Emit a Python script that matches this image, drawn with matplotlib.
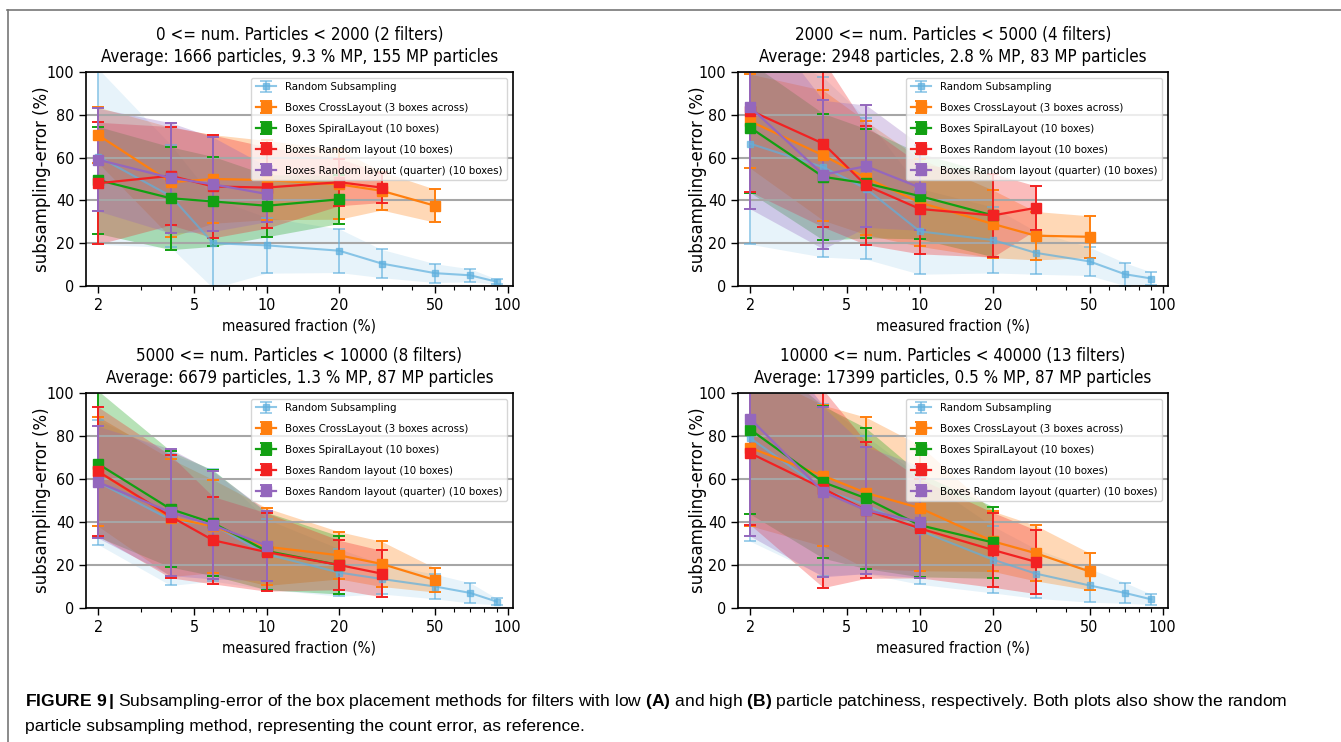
import numpy as np
import matplotlib
matplotlib.use('Agg')
import matplotlib.pyplot as plt
from matplotlib.lines import Line2D
from matplotlib import font_manager

# x positions (measured fraction, %)
x_random = [2, 4, 6, 10, 20, 30, 50, 70, 90]
x_cross = [2, 4, 6, 10, 20, 30, 50]
x_spiral = [2, 4, 6, 10, 20]
x_randlay = [2, 4, 6, 10, 20, 30]
x_quarter = [2, 4, 6, 10]

titles = [
    '0 <= num. Particles < 2000 (2 filters)\nAverage: 1666 particles, 9.3 % MP, 155 MP particles',
    '2000 <= num. Particles < 5000 (4 filters)\nAverage: 2948 particles, 2.8 % MP, 83 MP particles',
    '5000 <= num. Particles < 10000 (8 filters)\nAverage: 6679 particles, 1.3 % MP, 87 MP particles',
    '10000 <= num. Particles < 40000 (13 filters)\nAverage: 17399 particles, 0.5 % MP, 87 MP particles',
]

# one row per panel (TL, TR, BL, BR)
random_mean = [[60.5, 42, 20, 19, 16.5, 10.5, 6, 5, 2],
               [66.5, 55.5, 45.5, 25.5, 21.5, 15.5, 11.5, 5.5, 3.5],
               [58.5, 41, 38.5, 25, 16.5, 13.5, 10, 7, 3],
               [79, 55, 48, 36, 22.5, 16, 10.5, 7, 4]]
random_std = [[41, 24, 21, 13, 10.2, 6.6, 4.4, 3, 1.2],
              [47, 42, 33, 20, 15.4, 10, 6.6, 5.3, 3],
              [29, 30.5, 26, 16.3, 11, 7, 5.7, 4.7, 1.5],
              [48, 40, 32, 25, 15.5, 11.5, 7.8, 4.8, 2.4]]

cross_mean = [[70.5, 48.5, 50, 49.5, 47.5, 44.5, 37.5],
              [77, 61, 50.5, 39, 29, 23.5, 23],
              [63.5, 42, 38, 28.5, 24.5, 20.5, 13],
              [74.5, 61.5, 53.5, 46.5, 31, 25.5, 17]]
cross_std = [[13, 25.7, 20.7, 18.5, 16.3, 9, 7.7],
             [22, 30.4, 26.5, 20.5, 15.8, 11.3, 9.8],
             [25.5, 27.3, 21.7, 18, 11, 10.5, 5.6],
             [36.3, 32.8, 35.2, 29.2, 14, 12.9, 8.6]]

spiral_mean = [[49.5, 41, 39.5, 37.5, 40.5],
               [74, 51, 48, 42, 33],
               [67, 46, 39.5, 26.5, 20],
               [83, 58.5, 51, 38.5, 30.5]]
spiral_std = [[25, 24, 21, 14.5, 11.3],
              [30.4, 29.6, 25.5, 20, 19.3],
              [34, 27, 24.5, 18, 13.5],
              [39.3, 35.4, 32.7, 24, 16.7]]

randlay_mean = [[48, 51.5, 46.5, 46, 48.5, 46],
                [82, 66.5, 47, 36, 33, 36.5],
                [63.5, 42.5, 31.5, 26, 20, 16],
                [72, 55.5, 45.5, 37, 27, 21.5]]
randlay_std = [[28.5, 23, 24, 19, 11, 7],
               [38, 39, 27.7, 21, 19.5, 10.3],
               [30, 28.5, 20.3, 18.2, 11.5, 10.8],
               [33.3, 46, 31.7, 23, 17.4, 14.8]]

quarter_mean = [[59, 50.5, 47.5, 43],
                [83.5, 52, 56, 46],
                [58.5, 44.5, 38.5, 29],
                [88, 54, 45.5, 40]]
quarter_std = [[24, 25.8, 22, 13],
               [47.5, 34.7, 28.6, 20],
               [26, 29.4, 25, 16.3],
               [54.6, 39.5, 29.5, 26]]

series = [
    ('Random Subsampling', x_random, random_mean, random_std, '#5fb0de'),
    ('Boxes CrossLayout (3 boxes across)', x_cross, cross_mean, cross_std, '#ff7f0e'),
    ('Boxes SpiralLayout (10 boxes)', x_spiral, spiral_mean, spiral_std, '#12a012'),
    ('Boxes Random layout (10 boxes)', x_randlay, randlay_mean, randlay_std, '#f22222'),
    ('Boxes Random layout (quarter) (10 boxes)', x_quarter, quarter_mean, quarter_std, '#9467bd'),
]

plt.rcParams['font.family'] = ['DejaVu Sans']
plt.rcParams['font.stretch'] = 'condensed'

W, H = 1341, 742
fig = plt.figure(figsize=(W / 100, H / 100), dpi=100)

# axes boxes in pixels: left, top, right, bottom
boxes = [(86, 72, 513, 286), (738, 72, 1168, 286),
         (86, 393, 513, 608), (738, 393, 1168, 608)]

for i, (l, t, r, b) in enumerate(boxes):
    ax = fig.add_axes([l / W, 1 - b / H, (r - l) / W, (b - t) / H])
    for k, (name, x, mean, std, c) in enumerate(series):
        m = np.array(mean[i])
        s = np.array(std[i])
        if k == 0:
            ax.fill_between(x, m - s, m + s, color=c, alpha=0.15, lw=0)
            ax.errorbar(x, m, yerr=s, marker='s', ms=5, lw=1.5, capsize=4,
                        capthick=1.2, elinewidth=1.2, color=c, alpha=0.7, label=name)
        else:
            ax.fill_between(x, m - s, m + s, color=c, alpha=0.3, lw=0)
            ax.errorbar(x, m, yerr=s, marker='s', ms=6.5, lw=1.6, capsize=4,
                        capthick=1.4, elinewidth=1.4, color=c, label=name)
    ax.set_xscale('log')
    ax.set_xlim(1.78, 105.3)
    ax.set_ylim(0, 100)
    ax.set_xticks([2, 5, 10, 20, 50, 100])
    ax.set_xticklabels(['2', '5', '10', '20', '50', '100'])
    ax.set_xticks([3, 4, 6, 7, 8, 9, 30, 40, 60, 70, 80, 90], minor=True)
    ax.set_xticklabels([], minor=True)
    ax.set_yticks([0, 20, 40, 60, 80, 100])
    ax.yaxis.grid(True, color='#a6a6a6', lw=1.5)
    ax.tick_params(labelsize=11.5, length=5, width=1)
    ax.tick_params(which='minor', length=3, width=0.8)
    for sp in ax.spines.values():
        sp.set_linewidth(1.2)
    ax.set_xlabel('measured fraction (%)', fontsize=11)
    ax.set_ylabel('subsampling-error (%)', fontsize=12, fontstretch='normal')
    ax.yaxis.set_label_coords((51 - l) / (r - l) if i % 2 == 0 else (707 - l) / (r - l), 0.5)
    ax.set_title(titles[i], fontsize=12.2, pad=7, linespacing=1.3)
    ax.legend(loc='upper right', fontsize=8.2, labelspacing=0.95, handlelength=1.8)

# page frame
fig.add_artist(Line2D([7 / W, 1], [1 - 10 / H, 1 - 10 / H], color='#777777', lw=1.2))
fig.add_artist(Line2D([8 / W, 8 / W], [0, 1 - 10 / H], color='#777777', lw=1.2))

# caption
names = {f.name for f in font_manager.fontManager.ttflist}
cap_font = 'Liberation Sans Narrow' if 'Liberation Sans Narrow' in names else 'Liberation Sans'
plt.rcParams['mathtext.fontset'] = 'custom'
plt.rcParams['mathtext.rm'] = cap_font
plt.rcParams['mathtext.bf'] = cap_font + ':bold'

line1 = (r'$\mathbf{FIGURE\ 9\,|}$' + ' Subsampling-error of the box placement methods for filters with low '
         + r'$\mathbf{(A)}$' + ' and high ' + r'$\mathbf{(B)}$'
         + ' particle patchiness, respectively. Both plots also show the random')
line2 = 'particle subsampling method, representing the count error, as reference.'
t1 = fig.text(25 / W, 1 - 706 / H, line1, fontsize=12, family=cap_font,
              fontstretch='normal', va='baseline')
t2 = fig.text(25 / W, 1 - 731 / H, line2, fontsize=12, family=cap_font,
              fontstretch='normal', va='baseline')
rend = fig.canvas.get_renderer()
w1 = t1.get_window_extent(rend).width
fs = 12 * 1258 / w1
t1.set_fontsize(fs)
t2.set_fontsize(fs)

fig.savefig('out.png', dpi=100)
